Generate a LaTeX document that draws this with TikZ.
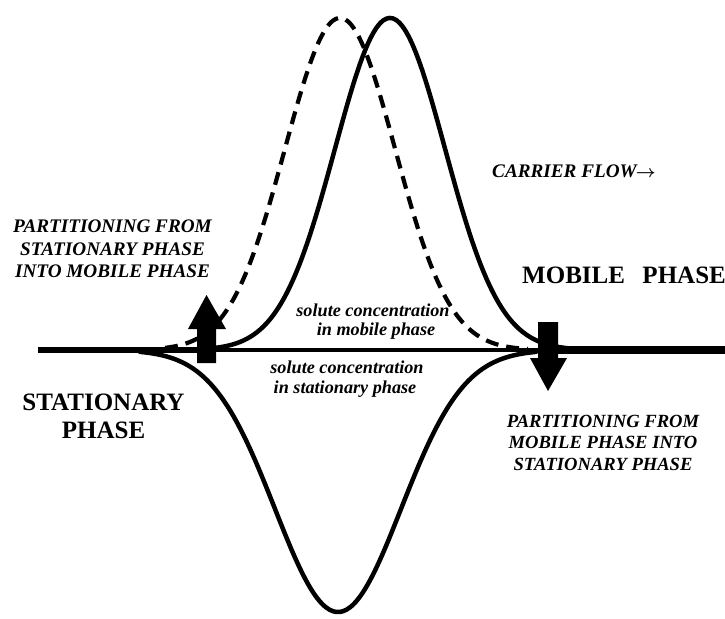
\documentclass[tikz,border=0pt]{standalone}
\usepackage{fontspec}
\setmainfont{Liberation Serif}
\begin{document}
\begin{tikzpicture}[x=1pt,y=-1pt,
  curve/.style={line width=4.5pt,line cap=round,line join=round},
  dashcurve/.style={line width=4.2pt,dash pattern=on 13pt off 8pt},
  arrowshape/.style={fill=black,draw=none},
  lbl/.style={inner sep=0pt,anchor=base,font=\fontsize{19.2}{22}\selectfont\bfseries\itshape},
  lblr/.style={inner sep=0pt,anchor=base,font=\fontsize{18.6}{22}\selectfont\bfseries\itshape},
  big/.style={inner sep=0pt,anchor=base,font=\fontsize{25}{28}\selectfont\bfseries},
  small/.style={inner sep=0pt,anchor=base,font=\fontsize{18.2}{20}\selectfont\bfseries\itshape}]
\useasboundingbox (0,0) rectangle (725,618);
% baseline
\coordinate (b0) at (38,350);
\coordinate (b1) at (200,350);
\coordinate (b2) at (545,350);
\coordinate (b3) at (725,350);
\draw[line width=6pt] (b0) -- (b1);
\draw[line width=4.5pt] (b1) -- (b2);
\draw[line width=8pt] (b2) -- (b3);
% solid mobile-phase peak
\draw[curve] plot[domain=205:590,samples=120,smooth] (\x,{350-332*exp(-0.5*((\x-390)/55)^2)});
% dashed earlier peak
\draw[dashcurve] plot[domain=165:528,samples=120,smooth] (\x,{350-332*exp(-0.5*((\x-340)/55)^2)});
% stationary-phase peak
\draw[curve] plot[domain=140:536,samples=120,smooth] (\x,{350+262*exp(-0.5*((\x-338)/63)^2)});
% up arrow
\fill[arrowshape] (197,363) -- (197,329) -- (188,329) -- (206.5,295) -- (226,329) -- (216,329) -- (216,363) -- cycle;
% down arrow
\fill[arrowshape] (538,322) -- (558,322) -- (558,358) -- (567,358) -- (548,391) -- (530,358) -- (538,358) -- cycle;
% texts
\node[lbl] (tl1) at (112.5,232) {PARTITIONING FROM};
\node[lbl] (tl2) at (112.5,255) {STATIONARY PHASE};
\node[lbl] (tl3) at (112.5,277) {INTO MOBILE PHASE};
\node[big] (st1) at (103.5,410) {STATIONARY};
\node[big] (st2) at (103.5,438) {PHASE};
\node[big,anchor=base west] (mp) at (522,283) {MOBILE\hspace{0.7em}PHASE};
\node[lbl,anchor=base west] (cf) at (492,177) {CARRIER FLOW\kern-1pt{\fontsize{18}{20}\selectfont\boldmath$\rightarrow$}};
\node[small] (sm1) at (373,316) {solute concentration};
\node[small] (sm2) at (376,335) {in mobile phase};
\node[small] (ss1) at (347,373) {solute concentration};
\node[small] (ss2) at (345,393) {in stationary phase};
\node[lblr] (br1) at (603,427) {PARTITIONING FROM};
\node[lblr] (br2) at (603,448) {MOBILE PHASE INTO};
\node[lblr] (br3) at (603,470) {STATIONARY PHASE};
\end{tikzpicture}
\end{document}
